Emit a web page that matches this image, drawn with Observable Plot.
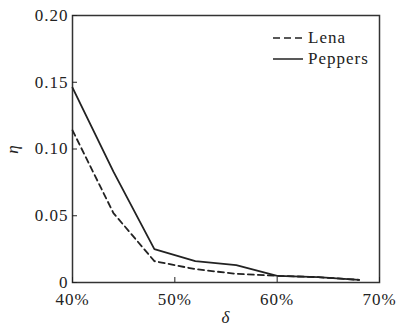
<!DOCTYPE html>
<html><head><meta charset="utf-8">
<script src="https://cdn.jsdelivr.net/npm/d3@7"></script>
<script src="https://cdn.jsdelivr.net/npm/@observablehq/plot@0.6"></script>
<style>
body{margin:0;background:#fff;}
#wrap{position:relative;width:401px;height:327px;font-family:'Liberation Serif','Times New Roman',serif;}
#legend{position:absolute;left:272px;top:27px;font-size:17px;letter-spacing:1px;color:#222;line-height:21px;}
#legend div{display:flex;align-items:center;}
#legend svg{margin-right:3px;}
svg text{font-family:'Liberation Serif','Times New Roman',serif;letter-spacing:1px;}
</style></head>
<body><div id="wrap"><div id="legend"></div></div>
<script>
const delta = [40, 44, 48, 52, 56, 60, 64, 68];
const lena = [0.114, 0.052, 0.016, 0.010, 0.0065, 0.005, 0.004, 0.002];
const peppers = [0.146, 0.083, 0.025, 0.016, 0.013, 0.005, 0.004, 0.002];
const series = ["Lena", "Peppers"];
const xTicks = [40, 50, 60, 70];
const yTicks = [0, 0.05, 0.10, 0.15, 0.20];

const data = [];
delta.forEach((d, i) => {
  data.push({delta: d, eta: lena[i], s: series[0]});
  data.push({delta: d, eta: peppers[i], s: series[1]});
});
const dash = {Lena: "6,4", Peppers: null};
const FONT = "'Liberation Serif', 'Times New Roman', serif";

const chart = Plot.plot({
  width: 401, height: 327,
  marginLeft: 72, marginRight: 22, marginTop: 15, marginBottom: 45,
  style: {fontFamily: FONT, fontSize: "17px", color: "#222", background: "#fff"},
  x: {domain: [40, 70]},
  y: {domain: [0, 0.2]},
  marks: [
    Plot.frame({stroke: "#333", strokeWidth: 1.5}),
    Plot.axisX({ticks: xTicks, tickFormat: d => d + "%", tickSize: -5, tickPadding: 15, label: null, fontFamily: FONT}),
    Plot.axisX({ticks: [], label: "δ", labelAnchor: "center", labelArrow: "none", labelOffset: 40, fontStyle: "italic", fontFamily: FONT}),
    Plot.axisY({ticks: yTicks, tickFormat: d => d === 0 ? "0" : d3.format(".2f")(d), tickSize: -5, tickPadding: 9, label: null, fontFamily: FONT}),
    Plot.axisY({ticks: [], label: "η", labelAnchor: "center", labelArrow: "none", labelOffset: 67, fontStyle: "italic", fontFamily: FONT}),
    ...series.map(s => Plot.line(data.filter(d => d.s === s), {x: "delta", y: "eta", stroke: "#222", strokeWidth: 1.8, strokeDasharray: dash[s]}))
  ]
});
const wrap = document.getElementById("wrap");
wrap.insertBefore(chart, wrap.firstChild);

const legend = document.getElementById("legend");
series.forEach(s => {
  const row = document.createElement("div");
  row.innerHTML = `<svg width="33" height="10"><line x1="1" x2="31" y1="5" y2="5" stroke="#222" stroke-width="1.5" ${dash[s] ? 'stroke-dasharray="7,4"' : ''}/></svg><span>${s}</span>`;
  legend.appendChild(row);
});
</script>
</body></html>
